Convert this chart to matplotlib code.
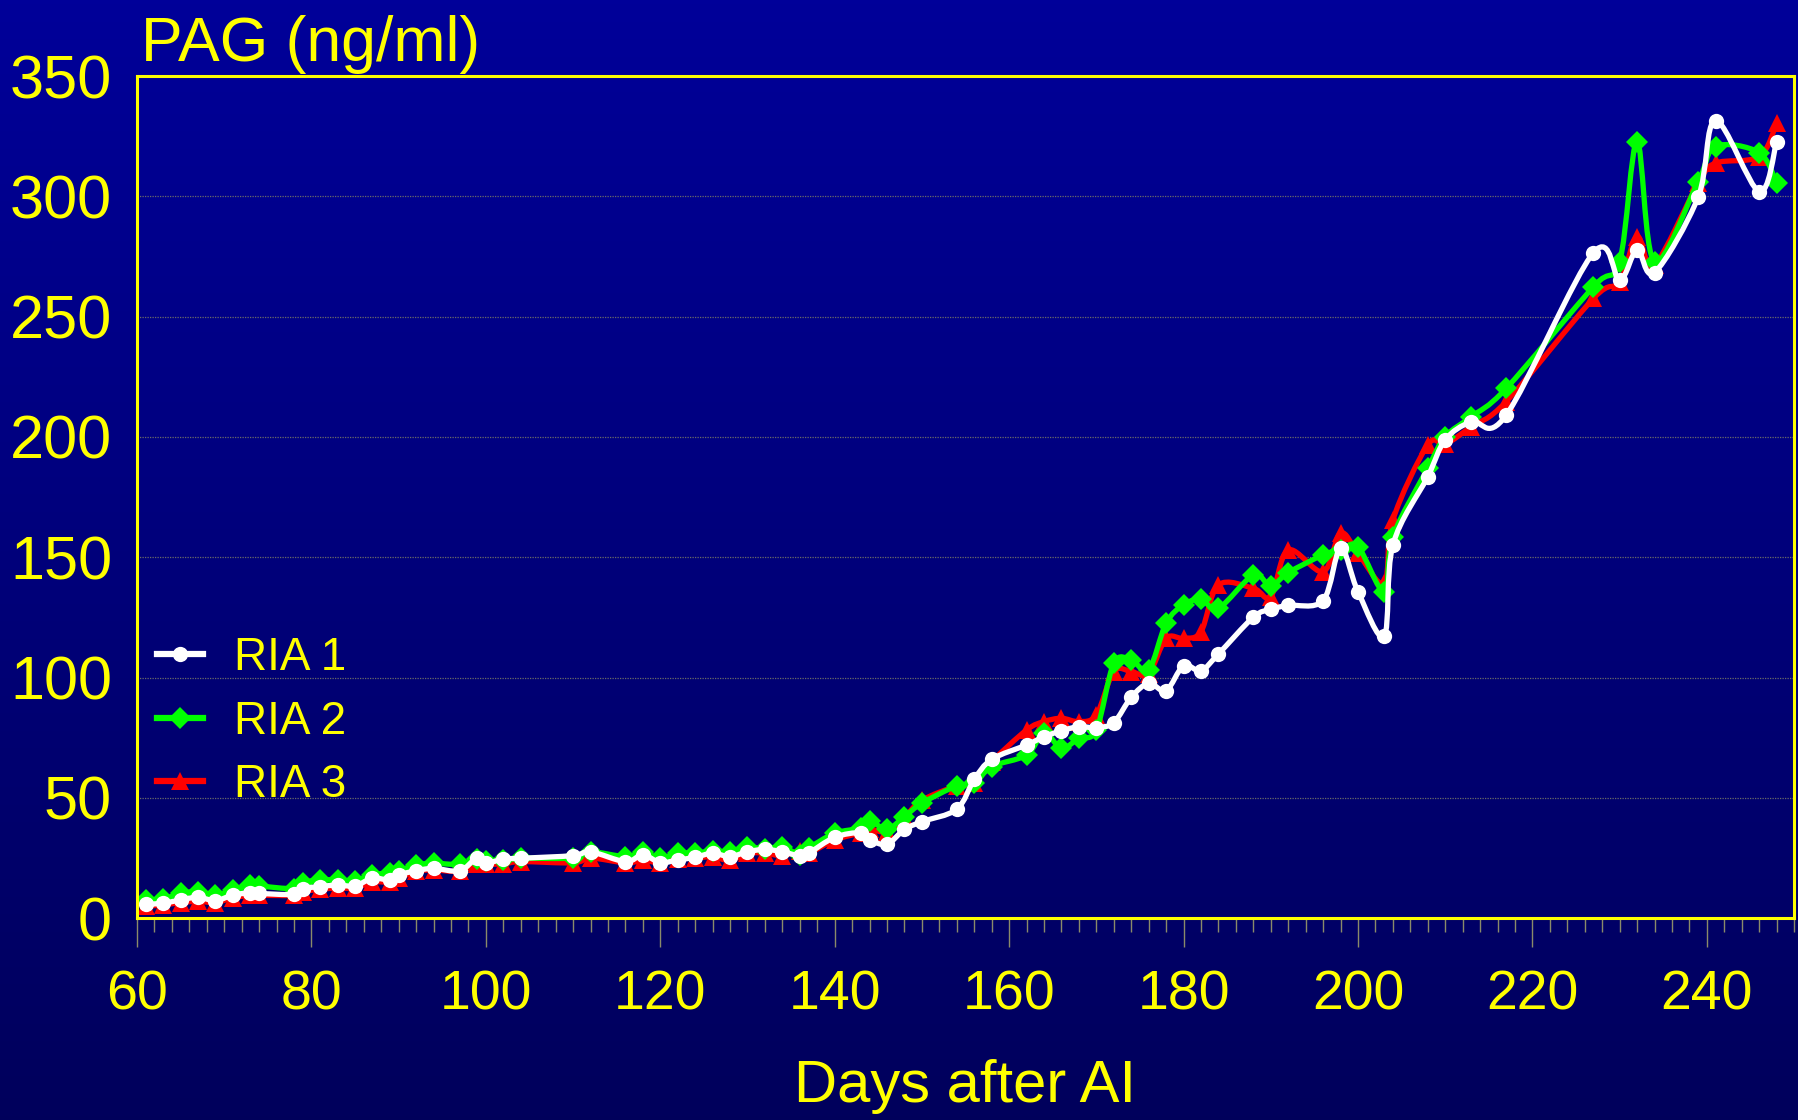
import numpy as np
import matplotlib.pyplot as plt
from matplotlib.path import Path
from matplotlib.patches import PathPatch
from matplotlib.lines import Line2D
from matplotlib.ticker import MultipleLocator

plt.rcParams['font.family'] = ['Liberation Sans', 'DejaVu Sans']

# Days after AI (sampling days, shared by the three assays)
days = [61, 63, 65, 67, 69, 71, 73, 74, 78, 79, 81, 83, 85, 87, 89, 90,
        92, 94, 97, 99, 100, 102, 104, 110, 112, 116, 118, 120, 122, 124, 126, 128,
        130, 132, 134, 136, 137, 140, 143, 144, 146, 148, 150, 154, 156, 158, 162, 164,
        166, 168, 170, 172, 174, 176, 178, 180, 182, 184, 188, 190, 192, 196, 198, 200,
        203, 204, 208, 210, 213, 217, 227, 230, 232, 234, 239, 241, 246, 248]

ria1 = [5.8, 6.2, 7.6, 8.7, 7.3, 9.6, 10.6, 10.3, 9.9, 12.3, 13.1, 13.8, 13.4, 16.6, 15.9, 18.0,
        19.7, 20.7, 19.7, 25.1, 22.8, 24.6, 24.9, 26.0, 27.6, 23.5, 26.3, 23.1, 24.2, 25.3, 27.0, 25.6,
        27.6, 28.6, 27.6, 25.9, 27.0, 33.6, 35.5, 32.5, 30.8, 36.9, 40.1, 45.3, 57.7, 66.0, 72.0, 75.4,
        77.9, 79.6, 79.2, 81.3, 91.8, 97.6, 94.6, 104.9, 102.9, 109.8, 125.1, 128.4, 130.0, 132.0, 153.7, 135.7,
        117.3, 155.1, 183.5, 198.8, 206.4, 209.1, 276.6, 265.3, 277.7, 268.3, 299.6, 331.5, 302.0, 322.7]

ria2 = [7.5, 8.0, 10.3, 11.0, 9.5, 11.7, 13.8, 13.4, 12.3, 14.8, 15.9, 15.9, 15.6, 18.0, 18.9, 19.6,
        22.1, 22.8, 22.4, 24.5, 23.9, 24.2, 24.9, 25.0, 27.6, 25.6, 27.4, 24.9, 27.0, 27.0, 27.9, 27.6,
        29.7, 28.6, 29.7, 26.3, 29.1, 35.3, 37.5, 40.5, 37.0, 42.2, 47.8, 55.0, 56.0, 63.0, 67.8, 77.0,
        70.6, 74.8, 78.2, 105.9, 107.3, 103.2, 122.6, 130.2, 132.5, 128.8, 142.6, 138.1, 143.6, 151.0, 153.0, 154.4,
        135.7, 158.6, 187.0, 200.1, 208.4, 220.2, 262.5, 272.9, 322.7, 272.9, 306.1, 320.7, 318.2, 305.4]

ria3 = [5.0, 5.5, 6.5, 7.0, 6.5, 8.5, 9.5, 9.5, 9.5, 11.0, 12.0, 12.5, 12.5, 15.0, 15.0, 16.5,
        19.5, 20.0, 19.5, 22.5, 22.5, 22.5, 23.5, 23.0, 25.0, 23.0, 24.0, 23.0, 24.5, 25.0, 25.5, 24.0,
        27.0, 27.0, 26.0, 28.0, 27.0, 32.5, 35.5, 37.0, 36.0, 42.0, 49.0, 55.0, 56.0, 65.0, 78.2, 81.7,
        83.1, 81.7, 84.5, 102.5, 102.5, 101.6, 116.3, 116.3, 119.1, 138.5, 137.1, 133.6, 153.0, 144.0, 160.0, 151.7,
        139.2, 165.5, 196.7, 197.0, 204.3, 214.7, 257.6, 264.5, 283.2, 271.5, 305.4, 313.8, 316.5, 330.4]

labels = ['RIA 1', 'RIA 2', 'RIA 3']
colors = ['#FFFFFF', '#00FF00', '#FF0000']
markers = ['o', 'D', '^']
msizes = [11, 11.5, 13]

YELLOW = '#FFFF00'


def smooth_path(x, y):
    # smoothed line like the office chart (Catmull-Rom segments as cubic Beziers)
    x = np.asarray(x, float)
    y = np.asarray(y, float)
    p = np.column_stack([x, y])
    verts = [p[0]]
    codes = [Path.MOVETO]
    n = len(p)
    for i in range(n - 1):
        p0 = p[i - 1] if i > 0 else p[i]
        p1 = p[i]
        p2 = p[i + 1]
        p3 = p[i + 2] if i + 2 < n else p[i + 1]
        c1 = p1 + (p2 - p0) / 6.0
        c2 = p2 - (p3 - p1) / 6.0
        verts += [c1, c2, p2]
        codes += [Path.CURVE4] * 3
    return Path(verts, codes)


fig = plt.figure(figsize=(17.98, 11.2), dpi=100)

# background gradient
bg = fig.add_axes([0, 0, 1, 1], zorder=-10)
grad = np.linspace(0, 1, 256).reshape(-1, 1)
top_c = np.array([0.0, 0.0, 0.60])
bot_c = np.array([0.0, 0.0, 0.36])
img = top_c + (bot_c - top_c) * grad[:, :, None]
bg.imshow(img, aspect='auto', extent=[0, 1, 0, 1])
bg.axis('off')

ax = fig.add_axes([0.0762, 0.1802, 0.9216, 0.7519])
ax.set_facecolor('none')

series = [ria1, ria2, ria3]
handles = []
for k in [2, 1, 0]:
    path = smooth_path(days, series[k])
    ax.add_patch(PathPatch(path, facecolor='none', edgecolor=colors[k], lw=3.8,
                           zorder=2 + (2 - k) * 2, capstyle='round', joinstyle='round'))
    ax.plot(days, series[k], linestyle='none', marker=markers[k], ms=msizes[k],
            color=colors[k], markeredgewidth=0, zorder=3 + (2 - k) * 2)

for k in range(3):
    handles.append(Line2D([], [], color=colors[k], lw=4.5, marker=markers[k],
                          ms=msizes[k], markeredgewidth=0))

ax.set_xlim(60, 250)
ax.set_ylim(0, 350)
ax.xaxis.set_major_locator(MultipleLocator(20))
ax.xaxis.set_minor_locator(MultipleLocator(2))
ax.yaxis.set_major_locator(MultipleLocator(50))

ax.grid(axis='y', color='#6a6a6a', linestyle=(0, (1, 1)), linewidth=0.9)
ax.set_axisbelow(True)

for s in ax.spines.values():
    s.set_color(YELLOW)
    s.set_linewidth(2.2)
    s.set_zorder(20)

ax.tick_params(axis='x', which='major', length=21, width=1, color='#8a8a6a',
               direction='out', labelsize=40, labelcolor=YELLOW, pad=16)
ax.tick_params(axis='x', which='minor', length=10, width=1, color='#8a8a6a',
               direction='out')
ax.tick_params(axis='y', which='both', length=0, labelsize=44, labelcolor=YELLOW, pad=18)

ax.legend(handles, labels, loc='upper left', bbox_to_anchor=(0.0119, 0.335),
          frameon=False, fontsize=33, labelcolor=YELLOW, handlelength=1.0,
          handletextpad=0.68, labelspacing=0.43, borderpad=0, borderaxespad=0)

fig.text(141 / 1798, 1 - 60.5 / 1120, 'PAG (ng/ml)', color=YELLOW, fontsize=45,
         ha='left', va='baseline')
fig.text(965 / 1798, 1 - 1101.7 / 1120, 'Days after AI', color=YELLOW, fontsize=43,
         ha='center', va='baseline')

fig.savefig('out.png', dpi=100)
